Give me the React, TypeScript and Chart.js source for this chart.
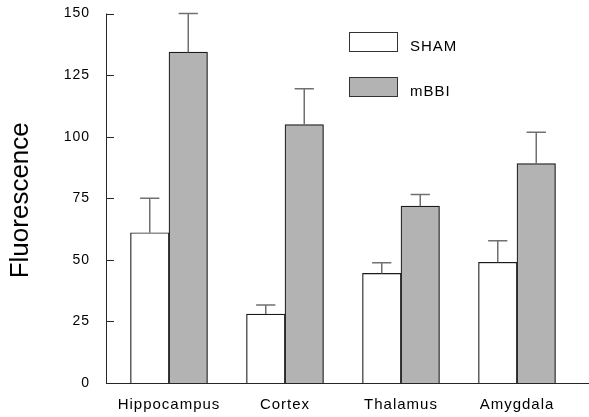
import React, { useEffect, useRef } from 'react';
import { Chart, registerables } from 'chart.js';

Chart.register(...registerables);

const categories = ['Hippocampus', 'Cortex', 'Thalamus', 'Amygdala'];
const seriesNames = ['SHAM', 'mBBI'];
const shamValues = [61, 28, 44.5, 49];
const shamErrors = [14, 3.7, 4.3, 8.7];
const mbbiValues = [134.3, 104.9, 71.8, 89.1];
const mbbiErrors = [15.7, 14.6, 4.7, 12.7];
const yTicks = [0, 25, 50, 75, 100, 125, 150];
const yTitle = 'Fluorescence';

const FONT = '"Liberation Sans", Arial, Helvetica, sans-serif';
const fills = ['#ffffff', '#b3b3b3'];
const AXIS_COLOR = '#262626';

const customPlugin = {
  id: 'customDraw',
  beforeDraw(chart: any) {
    chart.ctx.letterSpacing = '1px';
  },
  afterDatasetsDraw(chart: any) {
    const ctx = chart.ctx;
    const yScale = chart.scales.y;
    const area = chart.chartArea;
    const errs = [shamErrors, mbbiErrors];
    ctx.save();
    // error bars
    chart.data.datasets.forEach((ds: any, di: number) => {
      const meta = chart.getDatasetMeta(di);
      meta.data.forEach((bar: any, i: number) => {
        const v = ds.data[i];
        const top = yScale.getPixelForValue(v + errs[di][i]);
        const x = bar.x;
        const half = bar.width / 4;
        ctx.strokeStyle = '#707070';
        ctx.lineWidth = 1.5;
        ctx.beginPath();
        ctx.moveTo(x, bar.y);
        ctx.lineTo(x, top);
        ctx.moveTo(x - half, top);
        ctx.lineTo(x + half, top);
        ctx.stroke();
      });
    });
    // axes
    const axX = area.left - 5;
    const y0 = yScale.getPixelForValue(0);
    const yTop = yScale.getPixelForValue(yTicks[yTicks.length - 1]);
    ctx.strokeStyle = AXIS_COLOR;
    ctx.lineWidth = 1;
    ctx.beginPath();
    ctx.moveTo(Math.round(axX) + 0.5, yTop);
    ctx.lineTo(Math.round(axX) + 0.5, y0);
    ctx.moveTo(axX, Math.round(y0) + 0.5);
    ctx.lineTo(chart.width, Math.round(y0) + 0.5);
    yTicks.forEach((t) => {
      const py = Math.round(yScale.getPixelForValue(t)) + 0.5;
      ctx.moveTo(axX, py);
      ctx.lineTo(axX + 8, py);
    });
    ctx.stroke();
    // legend
    const lx = 349;
    const boxW = 48;
    const boxH = 19;
    const ly = [32, 77];
    ctx.font = `15px ${FONT}`;
    ctx.textBaseline = 'alphabetic';
    ctx.textAlign = 'left';
    seriesNames.forEach((name, i) => {
      ctx.fillStyle = fills[i];
      ctx.fillRect(lx, ly[i], boxW, boxH);
      ctx.strokeStyle = '#333333';
      ctx.lineWidth = 1;
      ctx.strokeRect(lx + 0.5, ly[i] + 0.5, boxW, boxH);
      ctx.fillStyle = '#000000';
      ctx.fillText(name, 410, ly[i] + boxH);
    });
    // y axis title
    ctx.letterSpacing = '0px';
    ctx.font = `26px ${FONT}`;
    ctx.textAlign = 'center';
    ctx.textBaseline = 'middle';
    ctx.fillStyle = '#000000';
    ctx.translate(21, (yTop + y0) / 2 + 2);
    ctx.rotate(-Math.PI / 2);
    ctx.fillText(yTitle, 0, 0);
    ctx.restore();
  },
};

export default function App() {
  const canvasRef = useRef<HTMLCanvasElement | null>(null);

  useEffect(() => {
    if (!canvasRef.current) return;
    const chart = new Chart(canvasRef.current, {
      type: 'bar',
      data: {
        labels: categories,
        datasets: [
          {
            label: seriesNames[0],
            data: shamValues,
            backgroundColor: fills[0],
            borderColor: '#1a1a1a',
            borderWidth: 1.2,
            barThickness: 38.5,
          },
          {
            label: seriesNames[1],
            data: mbbiValues,
            backgroundColor: fills[1],
            borderColor: '#1a1a1a',
            borderWidth: 1.2,
            barThickness: 38.5,
          },
        ],
      },
      options: {
        responsive: false,
        animation: false,
        layout: { padding: { top: 13.5, right: 14, left: 0, bottom: 0 } },
        plugins: {
          legend: { display: false },
          tooltip: { enabled: false },
        },
        scales: {
          x: {
            grid: { display: false, drawTicks: false, tickLength: 0 },
            border: { display: false },
            ticks: {
              color: '#000000',
              font: { family: FONT, size: 15 },
              padding: 13,
              maxRotation: 0,
              autoSkip: false,
            },
            afterFit: (s: any) => {
              s.height = 34;
              s.paddingLeft = 0;
              s.paddingRight = 0;
            },
          },
          y: {
            min: 0,
            max: 150,
            grid: { display: false, drawTicks: false, tickLength: 0 },
            border: { display: false },
            ticks: {
              stepSize: 25,
              color: '#000000',
              font: { family: FONT, size: 14 },
              padding: 21,
            },
            title: { display: false },
            afterFit: (s: any) => {
              s.width = 111;
              s.paddingTop = 0;
              s.paddingBottom = 0;
            },
          },
        },
      },
      plugins: [customPlugin],
    });
    return () => chart.destroy();
  }, []);

  return (
    <div style={{ position: 'absolute', left: 0, top: 0, width: 589, height: 417, background: '#ffffff' }}>
      <canvas ref={canvasRef} width={589} height={417} />
    </div>
  );
}
